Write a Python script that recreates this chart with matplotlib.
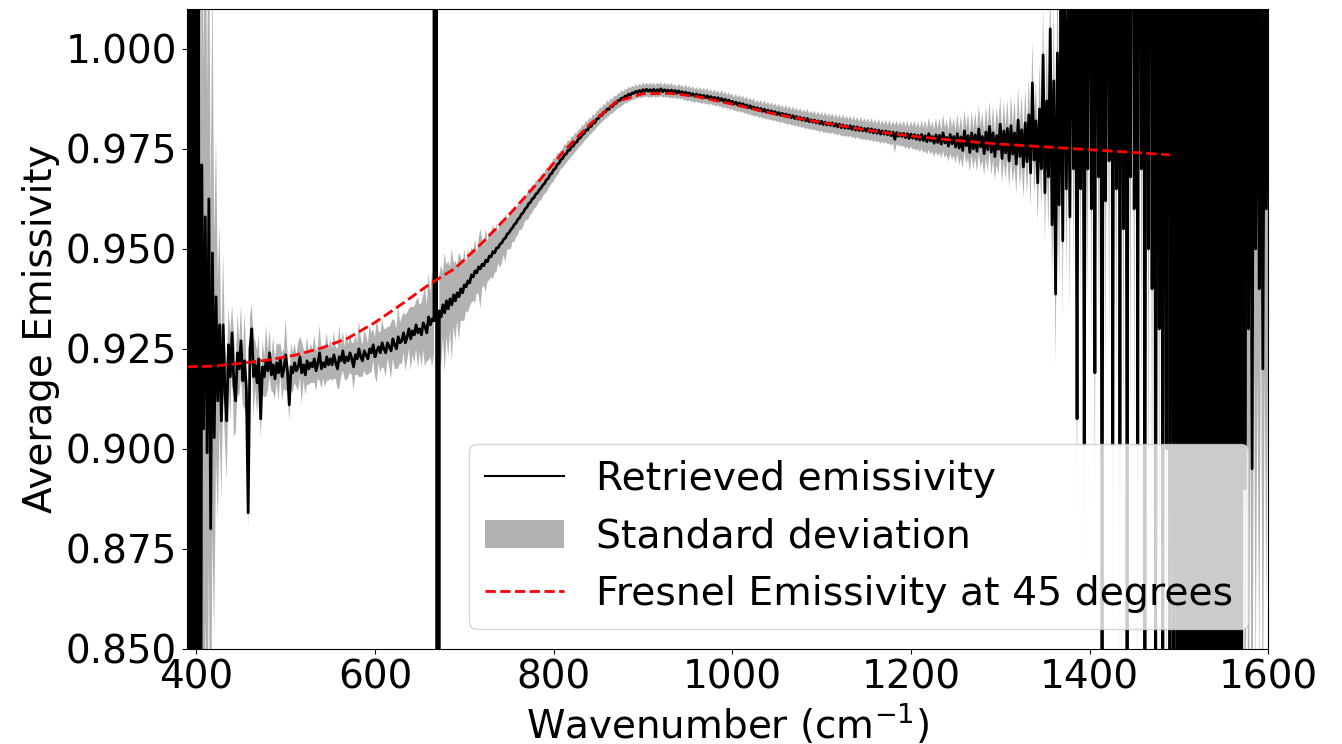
import numpy as np
import matplotlib
matplotlib.use("Agg")
import matplotlib.pyplot as plt

# wavenumber grid of the retrieval (cm^-1), 2 cm^-1 sampling
wn = np.arange(390, 1601, 2)

# retrieved emissivity (10 values per row = 20 cm^-1)
emis = [
    1.60, 0.40, 1.50, 0.45, 1.45, 0.50, 1.30, 0.60, 0.971, 0.905,
    0.958, 0.899, 0.9625, 0.880, 0.949, 0.9028, 0.938, 0.912, 0.931, 0.907,
    0.931, 0.914, 0.907, 0.926, 0.918, 0.929, 0.916, 0.912, 0.924, 0.920,
    0.927, 0.917, 0.922, 0.915, 0.884, 0.925, 0.930, 0.918, 0.921, 0.9165,
    0.9225, 0.9075, 0.9205, 0.9180, 0.9220, 0.9195, 0.9240, 0.9185, 0.9210, 0.9175,
    0.9215, 0.9190, 0.9225, 0.9180, 0.9200, 0.9235, 0.9195, 0.9110, 0.9205, 0.9190,
    0.9215, 0.9195, 0.9205, 0.9230, 0.9190, 0.9210, 0.9185, 0.9220, 0.9200, 0.9215,
    0.9205, 0.9225, 0.9195, 0.9215, 0.9240, 0.9200, 0.9215, 0.9205, 0.9230, 0.9210,
    0.9225, 0.9210, 0.9235, 0.9215, 0.9200, 0.9230, 0.9220, 0.9245, 0.9215, 0.9230,
    0.9220, 0.9240, 0.9225, 0.9205, 0.9235, 0.9225, 0.9250, 0.9230, 0.9220, 0.9245,
    0.9235, 0.9225, 0.9250, 0.9240, 0.9260, 0.9230, 0.9245, 0.9255, 0.9240, 0.9265,
    0.9250, 0.9240, 0.9265, 0.9255, 0.9245, 0.9275, 0.9260, 0.9250, 0.9280, 0.9265,
    0.9270, 0.9290, 0.9265, 0.9280, 0.9300, 0.9275, 0.9295, 0.9285, 0.9310, 0.9290,
    0.9300, 0.9285, 0.9315, 0.9305, 0.9290, 0.9330, 0.9310, 0.9325, 0.9320, 30.0,
    -30.0, 0.9345, 0.9330, 0.9360, 0.9340, 0.9370, 0.9350, 0.9375, 0.9360, 0.9385,
    0.9370, 0.9390, 0.9380, 0.9400, 0.9390, 0.9410, 0.9405, 0.9420, 0.9415, 0.9435,
    0.9430, 0.9445, 0.9440, 0.9455, 0.9450, 0.9462, 0.9458, 0.9472, 0.9468, 0.9482,
    0.9480, 0.9493, 0.9490, 0.9502, 0.9503, 0.9512, 0.9515, 0.9524, 0.9527, 0.9537,
    0.9540, 0.9548, 0.9553, 0.9561, 0.9565, 0.9574, 0.9578, 0.9587, 0.9591, 0.9600,
    0.9604, 0.9613, 0.9616, 0.9625, 0.9628, 0.9637, 0.9640, 0.9648, 0.9652, 0.9660,
    0.9664, 0.9673, 0.9676, 0.9686, 0.9689, 0.9698, 0.9701, 0.9711, 0.9714, 0.9723,
    0.9726, 0.9735, 0.9737, 0.9746, 0.9747, 0.9756, 0.9757, 0.9766, 0.9767, 0.9776,
    0.9778, 0.9786, 0.9788, 0.9797, 0.9797, 0.9806, 0.9806, 0.9815, 0.9815, 0.9824,
    0.9826, 0.9834, 0.9834, 0.9842, 0.9842, 0.9850, 0.9849, 0.9857, 0.9856, 0.9864,
    0.9864, 0.9871, 0.9871, 0.9877, 0.9876, 0.9882, 0.9881, 0.9887, 0.9885, 0.9890,
    0.9889, 0.9894, 0.9891, 0.9896, 0.9892, 0.9898, 0.9894, 0.9899, 0.9894, 0.9898,
    0.9894, 0.9899, 0.9893, 0.9898, 0.9895, 0.9900, 0.9893, 0.9898, 0.9894, 0.9897,
    0.9892, 0.9897, 0.9891, 0.9896, 0.9889, 0.9895, 0.9890, 0.9893, 0.9887, 0.9892,
    0.9885, 0.9890, 0.9884, 0.9888, 0.9882, 0.9887, 0.9881, 0.9885, 0.9879, 0.9884,
    0.9878, 0.9883, 0.9876, 0.9881, 0.9875, 0.9879, 0.9873, 0.9878, 0.9871, 0.9876,
    0.9869, 0.9874, 0.9867, 0.9872, 0.9865, 0.9869, 0.9862, 0.9867, 0.9860, 0.9865,
    0.9858, 0.9863, 0.9856, 0.9860, 0.9853, 0.9858, 0.9851, 0.9855, 0.9848, 0.9853,
    0.9846, 0.9851, 0.9844, 0.9849, 0.9842, 0.9847, 0.9840, 0.9845, 0.9838, 0.9843,
    0.9836, 0.9841, 0.9834, 0.9839, 0.9832, 0.9837, 0.9830, 0.9835, 0.9828, 0.9833,
    0.9826, 0.9831, 0.9824, 0.9829, 0.9822, 0.9827, 0.9820, 0.9826, 0.9818, 0.9823,
    0.9817, 0.9822, 0.9815, 0.9820, 0.9813, 0.9819, 0.9811, 0.9817, 0.9810, 0.9815,
    0.9809, 0.9815, 0.9807, 0.9813, 0.9805, 0.9812, 0.9803, 0.9810, 0.9802, 0.9808,
    0.9801, 0.9808, 0.9799, 0.9806, 0.9797, 0.9805, 0.9796, 0.9803, 0.9795, 0.9801,
    0.9794, 0.9801, 0.9792, 0.9800, 0.9790, 0.9798, 0.9789, 0.9797, 0.9787, 0.9795,
    0.9787, 0.9795, 0.9785, 0.9793, 0.9783, 0.9792, 0.9774, 0.9791, 0.9782, 0.9789,
    0.9781, 0.9789, 0.9778, 0.9788, 0.9776, 0.9787, 0.9777, 0.9786, 0.9774, 0.9784,
    0.9772, 0.9786, 0.9771, 0.9783, 0.9768, 0.9788, 0.9770, 0.9781, 0.9764, 0.9785,
    0.9766, 0.9784, 0.9762, 0.9790, 0.9765, 0.9779, 0.9757, 0.9786, 0.9763, 0.9781,
    0.9755, 0.9788, 0.9752, 0.9780, 0.9746, 0.9795, 0.9758, 0.9783, 0.9741, 0.9790,
    0.9750, 0.9785, 0.9744, 0.9800, 0.9755, 0.9781, 0.9738, 0.9792, 0.9748, 0.9806,
    0.9742, 0.9790, 0.9731, 0.9783, 0.9749, 0.9812, 0.9726, 0.9795, 0.9740, 0.9801,
    0.9720, 0.9808, 0.9737, 0.9790, 0.9712, 0.9822, 0.9731, 0.9798, 0.9705, 0.9815,
    0.9718, 0.9835, 0.9690, 0.9915, 0.9722, 0.9820, 0.9665, 0.9850, 0.9700, 0.9985,
    0.9640, 0.9870, 0.9680, 1.0050, 0.9560, 0.9920, 0.9387, 0.9990, 0.9610, 1.0150,
    0.9520, 1.0300, 0.9650, 1.0100, 0.9580, 1.0500, 0.9700, 1.0400, 0.9075, 1.0600,
    0.9650, 1.0800, 0.9010, 1.0500, 0.9700, 1.1000, 0.9600, 1.0700, 0.9190, 1.1200,
    0.9680, 1.0900, 0.8400, 1.1300, 0.9620, 1.0800, 0.9720, 1.1500, 0.9010, 1.1000,
    0.9650, 1.1600, 0.9010, 1.1200, 0.9550, 1.1800, 0.8450, 1.1400, 0.9680, 1.2000,
    0.9600, 1.1500, 0.9010, 1.2200, 0.9700, 1.1700, 0.8300, 1.2400, 0.9500, 1.2000,
    0.9400, 1.2600, 0.8200, 1.2200, 0.9300, 1.2800, 0.8000, 1.2500, 0.9000, 1.3000,
    0.8200, 1.3200, 0.7800, 1.3500, 0.7000, 1.3800, 0.6200, 1.4000, 0.6000, 1.4200,
    0.5800, 1.4500, 0.5500, 1.4800, 0.5600, 1.4600, 0.5300, 1.5000, 0.5500, 1.4700,
    0.5400, 1.4900, 0.5600, 1.4600, 0.5200, 1.5000, 0.5500, 1.4500, 0.5700, 1.4400,
    0.5800, 1.4200, 0.6000, 1.4000, 0.6300, 1.3500, 0.6600, 1.3000, 0.7000, 1.2500,
    0.7500, 1.2000, 0.8900, 1.0600, 0.9300, 1.0400, 0.8950, 1.0500, 0.9500, 1.0300,
    0.9400, 1.0400, 0.9200, 1.0200, 0.9600, 1.0300,
]

# standard deviation of the retrieval
std = [
    0.30, 0.30, 0.30, 0.30, 0.30, 0.30, 0.25, 0.25, 0.10, 0.09,
    0.10, 0.09, 0.09, 0.08, 0.07, 0.05, 0.040, 0.030, 0.025, 0.020,
    0.018, 0.012, 0.015, 0.009, 0.011, 0.007, 0.013, 0.008, 0.010, 0.007,
    0.009, 0.006, 0.012, 0.007, 0.004, 0.008, 0.006, 0.010, 0.006, 0.008,
    0.006, 0.005, 0.007, 0.005, 0.009, 0.005, 0.006, 0.004, 0.007, 0.005,
    0.005, 0.007, 0.004, 0.006, 0.005, 0.009, 0.005, 0.004, 0.006, 0.005,
    0.005, 0.004, 0.006, 0.005, 0.008, 0.004, 0.005, 0.006, 0.004, 0.005,
    0.004, 0.006, 0.005, 0.004, 0.007, 0.005, 0.004, 0.005, 0.006, 0.004,
    0.005, 0.004, 0.006, 0.004, 0.005, 0.008, 0.004, 0.005, 0.004, 0.006,
    0.004, 0.005, 0.004, 0.006, 0.005, 0.004, 0.007, 0.005, 0.004, 0.005,
    0.005, 0.004, 0.006, 0.005, 0.004, 0.005, 0.008, 0.004, 0.005, 0.006,
    0.005, 0.006, 0.004, 0.005, 0.007, 0.005, 0.006, 0.005, 0.008, 0.005,
    0.006, 0.005, 0.007, 0.006, 0.005, 0.008, 0.006, 0.007, 0.006, 0.009,
    0.006, 0.008, 0.007, 0.010, 0.007, 0.011, 0.008, 0.012, 0.008, 0.004,
    0.004, 0.009, 0.013, 0.008, 0.015, 0.009, 0.012, 0.008, 0.014, 0.008,
    0.010, 0.007, 0.011, 0.008, 0.007, 0.009, 0.006, 0.008, 0.006, 0.007,
    0.006, 0.008, 0.005, 0.007, 0.010, 0.006, 0.005, 0.008, 0.005, 0.006,
    0.005, 0.007, 0.005, 0.006, 0.004, 0.006, 0.005, 0.004, 0.006, 0.004,
    0.004, 0.005, 0.0035, 0.0045, 0.0035, 0.004, 0.003, 0.004, 0.0035, 0.003,
    0.0032, 0.0038, 0.0030, 0.0035, 0.0028, 0.0034, 0.0030, 0.0027, 0.0032, 0.0028,
    0.0027, 0.0031, 0.0026, 0.0029, 0.0025, 0.0030, 0.0024, 0.0028, 0.0025, 0.0023,
    0.0024, 0.0027, 0.0023, 0.0026, 0.0022, 0.0025, 0.0022, 0.0024, 0.0021, 0.0023,
    0.0021, 0.0024, 0.0020, 0.0023, 0.0020, 0.0022, 0.0019, 0.0022, 0.0019, 0.0021,
    0.0019, 0.0021, 0.0018, 0.0020, 0.0018, 0.0021, 0.0017, 0.0019, 0.0018, 0.0020,
    0.0017, 0.0019, 0.0017, 0.0020, 0.0016, 0.0018, 0.0017, 0.0019, 0.0016, 0.0018,
    0.0016, 0.0018, 0.0015, 0.0017, 0.0016, 0.0018, 0.0015, 0.0017, 0.0016, 0.0018,
    0.0016, 0.0017, 0.0015, 0.0018, 0.0016, 0.0017, 0.0015, 0.0018, 0.0016, 0.0017,
    0.0016, 0.0018, 0.0016, 0.0017, 0.0015, 0.0018, 0.0016, 0.0017, 0.0016, 0.0019,
    0.0017, 0.0018, 0.0016, 0.0019, 0.0017, 0.0018, 0.0016, 0.0019, 0.0017, 0.0018,
    0.0017, 0.0019, 0.0017, 0.0018, 0.0016, 0.0020, 0.0017, 0.0019, 0.0017, 0.0020,
    0.0018, 0.0019, 0.0017, 0.0020, 0.0018, 0.0019, 0.0017, 0.0021, 0.0018, 0.0020,
    0.0018, 0.0020, 0.0018, 0.0021, 0.0018, 0.0020, 0.0019, 0.0021, 0.0018, 0.0020,
    0.0019, 0.0021, 0.0018, 0.0022, 0.0019, 0.0021, 0.0019, 0.0022, 0.0019, 0.0021,
    0.0019, 0.0022, 0.0020, 0.0021, 0.0019, 0.0023, 0.0020, 0.0022, 0.0019, 0.0023,
    0.0020, 0.0022, 0.0020, 0.0023, 0.0020, 0.0022, 0.0021, 0.0024, 0.0020, 0.0023,
    0.0021, 0.0023, 0.0020, 0.0024, 0.0021, 0.0023, 0.0021, 0.0025, 0.0021, 0.0024,
    0.0022, 0.0024, 0.0021, 0.0025, 0.0022, 0.0024, 0.0022, 0.0026, 0.0022, 0.0025,
    0.0022, 0.0025, 0.0022, 0.0026, 0.0023, 0.0025, 0.0022, 0.0027, 0.0023, 0.0026,
    0.0023, 0.0026, 0.0023, 0.0027, 0.0024, 0.0026, 0.0023, 0.0028, 0.0024, 0.0027,
    0.0024, 0.0028, 0.0024, 0.0029, 0.0025, 0.0028, 0.0035, 0.0029, 0.0025, 0.0030,
    0.0026, 0.0031, 0.0027, 0.0033, 0.0028, 0.0032, 0.0029, 0.0035, 0.0029, 0.0034,
    0.0030, 0.0036, 0.0031, 0.0038, 0.0032, 0.0040, 0.0033, 0.0038, 0.0034, 0.0042,
    0.0035, 0.0043, 0.0036, 0.0046, 0.0038, 0.0044, 0.0039, 0.0048, 0.0040, 0.0047,
    0.0042, 0.0050, 0.0043, 0.0053, 0.0045, 0.0052, 0.0046, 0.0056, 0.0048, 0.0055,
    0.0049, 0.0058, 0.0051, 0.0061, 0.0053, 0.0060, 0.0054, 0.0065, 0.0056, 0.0063,
    0.0058, 0.0068, 0.0060, 0.0072, 0.0062, 0.0070, 0.0064, 0.0076, 0.0066, 0.0074,
    0.0068, 0.0080, 0.0071, 0.0085, 0.0074, 0.0083, 0.0077, 0.0090, 0.0080, 0.0088,
    0.0083, 0.0097, 0.0087, 0.0105, 0.0092, 0.0102, 0.0097, 0.0115, 0.0102, 0.0125,
    0.012, 0.015, 0.014, 0.018, 0.016, 0.020, 0.018, 0.023, 0.021, 0.026,
    0.020, 0.024, 0.022, 0.026, 0.024, 0.028, 0.026, 0.030, 0.028, 0.032,
    0.030, 0.034, 0.032, 0.036, 0.034, 0.038, 0.036, 0.040, 0.038, 0.042,
    0.040, 0.045, 0.043, 0.048, 0.046, 0.050, 0.048, 0.053, 0.050, 0.055,
    0.053, 0.058, 0.056, 0.060, 0.058, 0.063, 0.060, 0.065, 0.063, 0.068,
    0.065, 0.070, 0.068, 0.073, 0.070, 0.075, 0.073, 0.078, 0.075, 0.080,
    0.078, 0.085, 0.082, 0.090, 0.088, 0.095, 0.092, 0.100, 0.098, 0.105,
    0.10, 0.11, 0.11, 0.12, 0.12, 0.13, 0.13, 0.14, 0.14, 0.15,
    0.15, 0.15, 0.15, 0.15, 0.15, 0.15, 0.15, 0.15, 0.15, 0.15,
    0.15, 0.15, 0.15, 0.15, 0.15, 0.15, 0.15, 0.15, 0.15, 0.15,
    0.15, 0.15, 0.15, 0.15, 0.15, 0.15, 0.15, 0.15, 0.15, 0.15,
    0.15, 0.15, 0.14, 0.14, 0.13, 0.13, 0.12, 0.12, 0.11, 0.11,
    0.10, 0.10, 0.10, 0.10, 0.10, 0.10,
]

# Fresnel emissivity at 45 degrees
fres_wn = [390, 420, 450, 480, 510, 540, 570, 600, 630, 660, 690, 720, 750, 780,
           810, 840, 870, 900, 930, 960, 1000, 1050, 1100, 1150, 1200, 1250,
           1300, 1350, 1400, 1450, 1490]
fres = [0.9205, 0.9207, 0.9214, 0.9222, 0.9234, 0.9252, 0.9277, 0.9316, 0.9362,
        0.9410, 0.9452, 0.9515, 0.9585, 0.9660, 0.9741, 0.9810, 0.9868, 0.9888,
        0.9889, 0.9881, 0.9862, 0.9836, 0.9816, 0.9797, 0.9782, 0.9771, 0.9762,
        0.9755, 0.9748, 0.9741, 0.9735]

emis = np.array(emis)
std = np.array(std)

plt.rcParams["font.size"] = 28

fig = plt.figure(figsize=(13.42, 7.44), dpi=100)
ax = fig.add_axes([0.139, 0.128, 0.806, 0.860])

fill = ax.fill_between(wn, emis - std, emis + std, color="grey", alpha=0.6,
                       linewidth=0, label="Standard deviation")
line, = ax.plot(wn, emis, color="k", lw=2, label="Retrieved emissivity")
fr, = ax.plot(fres_wn, fres, "r--", lw=2, label="Fresnel Emissivity at 45 degrees")

ax.set_xlim(389, 1600)
ax.set_ylim(0.85, 1.01)
ax.tick_params(labelsize=28)
ax.set_xlabel("Wavenumber (cm$^{-1}$)")
ax.set_ylabel("Average Emissivity")
leg = ax.legend(handles=[line, fill, fr], loc="lower right", fontsize=28.4)
leg.get_lines()[0].set_linewidth(1.5)

fig.savefig("out.png", dpi=100)
